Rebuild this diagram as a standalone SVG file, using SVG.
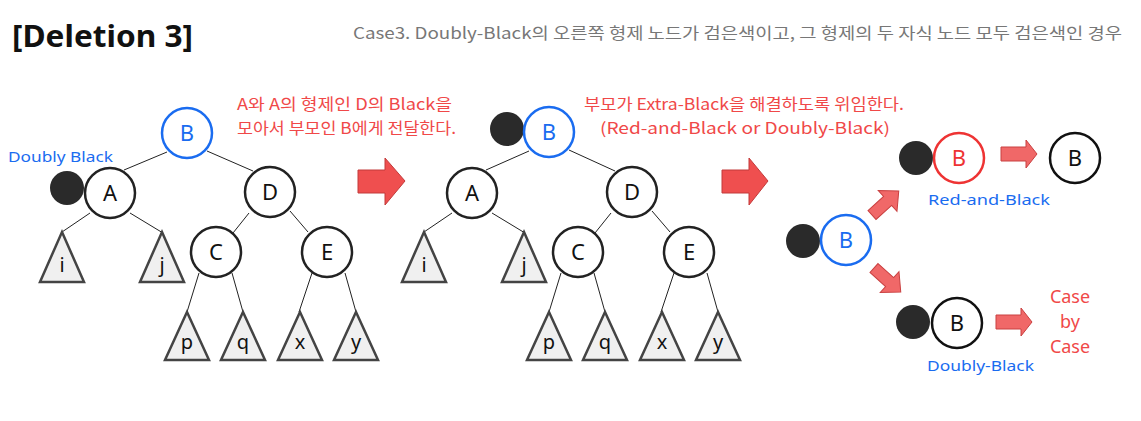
<svg xmlns="http://www.w3.org/2000/svg" width="1141" height="421" viewBox="0 0 1141 421">
<defs>
<style>
.t{font-family:"Noto Sans","Noto Sans CJK KR",sans-serif}
.k{font-family:"Noto Sans CJK KR","Noto Sans",sans-serif}
.nd{fill:#fff;stroke:#222;stroke-width:2.5}
.nb{fill:#fff;stroke:#1a6cf0;stroke-width:2.5}
.nr{fill:#fff;stroke:#ee3333;stroke-width:2.5}
.dot{fill:#2a2a2a}
.tri{fill:#f0f0f0;stroke:#444;stroke-width:2.5;stroke-linejoin:miter}
.lbl{font-family:"Noto Sans",sans-serif;font-size:22px;fill:#111;text-anchor:middle}
.sl{font-family:"Noto Sans",sans-serif;font-size:20px;fill:#111;text-anchor:middle}
.e{stroke:#222;stroke-width:1;fill:none}
.big{fill:#ef4f4f;stroke:#c23a3a;stroke-width:1}
.sm{fill:#f06868;stroke:#c94040;stroke-width:1}
.red{fill:#f04848}
.blue{fill:#1a6cf0}
</style>
</defs>
<rect width="1141" height="421" fill="#fff"/>
<text class="t" x="12" y="47" font-size="30" font-weight="bold" fill="#111" textLength="181" lengthAdjust="spacingAndGlyphs">[Deletion 3]</text>
<text class="k" x="353" y="39" font-size="16" fill="#777" textLength="769" lengthAdjust="spacingAndGlyphs">Case3. Doubly-Black의 오른쪽 형제 노드가 검은색이고, 그 형제의 두 자식 노드 모두 검은색인 경우</text>
<g id="note1">
<text class="k red" x="237" y="110" font-size="16" textLength="215" lengthAdjust="spacingAndGlyphs">A와 A의 형제인 D의 Black을</text>
<text class="k red" x="237" y="134" font-size="16" textLength="219" lengthAdjust="spacingAndGlyphs">모아서 부모인 B에게 전달한다.</text>
</g>
<g id="note2">
<text class="k red" x="584" y="110" font-size="16" textLength="320" lengthAdjust="spacingAndGlyphs">부모가 Extra-Black을 해결하도록 위임한다.</text>
<text class="k red" x="600" y="134" font-size="16" textLength="290" lengthAdjust="spacingAndGlyphs">(Red-and-Black or Doubly-Black)</text>
</g>
<text id="db-label" class="t blue" x="8" y="162" font-size="15" textLength="105" lengthAdjust="spacingAndGlyphs">Doubly Black</text>
<g id="connectors">
<line class="e" x1="167" y1="152" x2="124" y2="170"/>
<line class="e" x1="207" y1="151" x2="253" y2="171"/>
<line class="e" x1="90" y1="213" x2="62" y2="232"/>
<line class="e" x1="130" y1="213" x2="163" y2="233"/>
<line class="e" x1="249" y1="213" x2="233" y2="233"/>
<line class="e" x1="290" y1="211" x2="308" y2="232"/>
<line class="e" x1="199" y1="273" x2="187" y2="312"/>
<line class="e" x1="232" y1="273" x2="243" y2="312"/>
<line class="e" x1="312" y1="273" x2="299" y2="312"/>
<line class="e" x1="345" y1="273" x2="356" y2="312"/>
<g transform="translate(362,0)">
<line class="e" x1="167" y1="151" x2="124" y2="170"/>
<line class="e" x1="207" y1="150" x2="253" y2="171"/>
<line class="e" x1="90" y1="213" x2="62" y2="232"/>
<line class="e" x1="130" y1="213" x2="163" y2="233"/>
<line class="e" x1="249" y1="213" x2="233" y2="233"/>
<line class="e" x1="290" y1="211" x2="308" y2="232"/>
<line class="e" x1="199" y1="273" x2="187" y2="312"/>
<line class="e" x1="232" y1="273" x2="243" y2="312"/>
<line class="e" x1="312" y1="273" x2="299" y2="312"/>
<line class="e" x1="345" y1="273" x2="356" y2="312"/>
</g>
<polygon class="big" points="358,170 385,170 385,158 405,181 385,205 385,193 358,193"/>
<polygon class="big" points="722,170 749,170 749,158 768,181 749,205 749,193 722,193"/>
<polygon class="sm" points="0,-6 21,-6 21,-14 36,0 21,14 21,6 0,6" transform="translate(872,215) rotate(-42)"/>
<polygon class="sm" points="0,-6 21,-6 21,-14 36,0 21,14 21,6 0,6" transform="translate(874,268) rotate(42)"/>
<polygon class="sm" points="1001,147 1026,147 1026,140 1037,154 1026,168 1026,161 1001,161"/>
<polygon class="sm" points="996,315 1021,315 1021,308 1032,322 1021,336 1021,329 996,329"/>
</g>
<g id="tree1">
<circle class="dot" cx="67" cy="188" r="17"/>
<g id="t1-B"><circle class="nb" cx="187" cy="133" r="25"/><text class="lbl" x="187" y="141" style="fill:#1a6cf0">B</text></g>
<g id="t1-A"><circle class="nd" cx="110" cy="193" r="25"/><text class="lbl" x="110" y="201">A</text></g>
<g id="t1-D"><circle class="nd" cx="270" cy="192" r="25"/><text class="lbl" x="270" y="200">D</text></g>
<g id="t1-C"><circle class="nd" cx="216" cy="252" r="25"/><text class="lbl" x="216" y="260">C</text></g>
<g id="t1-E"><circle class="nd" cx="327" cy="252" r="25"/><text class="lbl" x="327" y="260">E</text></g>
<g id="t1-i"><polygon class="tri" points="62,232 84,282 40,282"/><text class="sl" x="62" y="272">i</text></g>
<g id="t1-j"><polygon class="tri" points="162,232 184,282 140,282"/><text class="sl" x="162" y="272">j</text></g>
<g id="t1-p"><polygon class="tri" points="187,312 209,360 165,360"/><text class="sl" x="187" y="349">p</text></g>
<g id="t1-q"><polygon class="tri" points="243,312 265,360 221,360"/><text class="sl" x="243" y="349">q</text></g>
<g id="t1-x"><polygon class="tri" points="300,312 322,360 278,360"/><text class="sl" x="300" y="349">x</text></g>
<g id="t1-y"><polygon class="tri" points="356,312 378,360 334,360"/><text class="sl" x="356" y="349">y</text></g>
</g>
<g id="tree2" transform="translate(362,0)">
<circle class="dot" cx="145" cy="129" r="17"/>
<g id="t2-B"><circle class="nb" cx="187" cy="132" r="25"/><text class="lbl" x="187" y="140" style="fill:#1a6cf0">B</text></g>
<g id="t2-A"><circle class="nd" cx="110" cy="193" r="25"/><text class="lbl" x="110" y="201">A</text></g>
<g id="t2-D"><circle class="nd" cx="270" cy="192" r="25"/><text class="lbl" x="270" y="200">D</text></g>
<g id="t2-C"><circle class="nd" cx="216" cy="252" r="25"/><text class="lbl" x="216" y="260">C</text></g>
<g id="t2-E"><circle class="nd" cx="327" cy="252" r="25"/><text class="lbl" x="327" y="260">E</text></g>
<g id="t2-i"><polygon class="tri" points="62,232 84,282 40,282"/><text class="sl" x="62" y="272">i</text></g>
<g id="t2-j"><polygon class="tri" points="162,232 184,282 140,282"/><text class="sl" x="162" y="272">j</text></g>
<g id="t2-p"><polygon class="tri" points="187,312 209,360 165,360"/><text class="sl" x="187" y="349">p</text></g>
<g id="t2-q"><polygon class="tri" points="243,312 265,360 221,360"/><text class="sl" x="243" y="349">q</text></g>
<g id="t2-x"><polygon class="tri" points="300,312 322,360 278,360"/><text class="sl" x="300" y="349">x</text></g>
<g id="t2-y"><polygon class="tri" points="356,312 378,360 334,360"/><text class="sl" x="356" y="349">y</text></g>
</g>
<g id="r-start"><circle class="dot" cx="803" cy="241" r="17"/><circle class="nb" cx="846" cy="240" r="25"/><text class="lbl" x="846" y="248" style="fill:#1a6cf0">B</text></g>
<g id="r-redblack"><circle class="dot" cx="916" cy="158" r="17"/><circle class="nr" cx="959" cy="158" r="25"/><text class="lbl" x="959" y="166" style="fill:#ee3333">B</text>
<text class="t blue" x="928" y="205" font-size="15" textLength="122" lengthAdjust="spacingAndGlyphs">Red-and-Black</text></g>
<g id="r-black"><circle class="nd" cx="1075" cy="158" r="25" style="stroke:#111"/><text class="lbl" x="1075" y="166">B</text></g>
<g id="r-doubly"><circle class="dot" cx="913" cy="322" r="17"/><circle class="nd" cx="957" cy="323" r="25" style="stroke:#111"/><text class="lbl" x="957" y="331">B</text>
<text class="t blue" x="927" y="371" font-size="15" textLength="107" lengthAdjust="spacingAndGlyphs">Doubly-Black</text></g>
<g id="r-case"><text class="t red" font-size="18" text-anchor="middle"><tspan x="1070" y="303">Case</tspan><tspan x="1070" y="328">by</tspan><tspan x="1070" y="353">Case</tspan></text></g>
</svg>
